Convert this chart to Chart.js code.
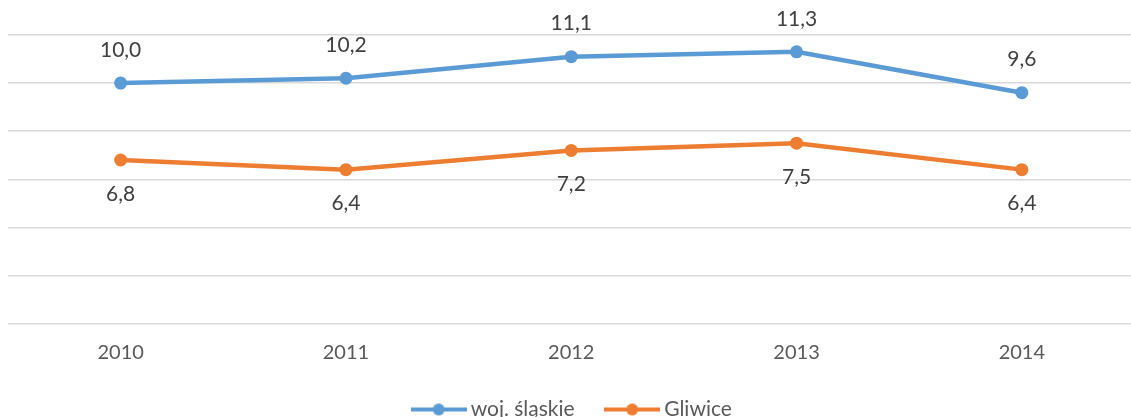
<!DOCTYPE html>
<html>
<head>
<meta charset="utf-8">
<script src="https://cdn.jsdelivr.net/npm/chart.js@4"></script>
<style>
html, body { margin: 0; padding: 0; background: #fff; overflow: hidden; }
#frame { width: 1131px; height: 417px; overflow: hidden; position: relative; }
#wrap { width: 1141px; height: 430px; position: absolute; left: 0; top: 0; }
</style>
</head>
<body>
<div id="frame"><div id="wrap"><canvas id="chart"></canvas></div></div>
<script>
const years = ['2010', '2011', '2012', '2013', '2014'];
const slaskie = [10.0, 10.2, 11.1, 11.3, 9.6];
const gliwice = [6.8, 6.4, 7.2, 7.5, 6.4];
const seriesNames = ['woj. śląskie', 'Gliwice'];
const colors = ['#5B9BD5', '#ED7D31'];

Chart.defaults.font.family = 'Lato';

// little line+dot picture for the legend
function legendMark(color){
    const c = document.createElement('canvas');
    c.width = 56; c.height = 14;
    const g = c.getContext('2d');
    g.strokeStyle = color;
    g.lineWidth = 4;
    g.beginPath(); g.moveTo(0, 7); g.lineTo(56, 7); g.stroke();
    g.fillStyle = color;
    g.beginPath(); g.arc(28, 7, 6, 0, Math.PI * 2); g.fill();
    return c;
}
const marks = colors.map(legendMark);

// values written above / below the points
const valueLabels = {
    id: 'valueLabels',
    afterDatasetsDraw(chart){
        const ctx = chart.ctx;
        ctx.save();
        ctx.font = '21px Lato';
        ctx.fillStyle = '#404040';
        ctx.textAlign = 'center';
        ctx.textBaseline = 'middle';
        chart.data.datasets.forEach((ds, i) => {
            const off = i === 0 ? -33 : 34;
            chart.getDatasetMeta(i).data.forEach((pt, j) => {
                ctx.fillText(ds.data[j].toFixed(1).replace('.', ','), pt.x, pt.y + off);
            });
        });
        ctx.restore();
    }
};

new Chart(document.getElementById('chart'), {
    type: 'line',
    data: {
        labels: years,
        datasets: [slaskie, gliwice].map((d, i) => ({
            label: seriesNames[i],
            data: d,
            borderColor: colors[i],
            backgroundColor: colors[i],
            borderWidth: 4.5,
            pointRadius: 6.5,
            pointBorderWidth: 0,
            pointBackgroundColor: colors[i],
            tension: 0,
            fill: false
        }))
    },
    options: {
        responsive: true,
        maintainAspectRatio: false,
        devicePixelRatio: 1,
        animation: false,
        layout: { padding: { left: 8, top: 35, right: 0, bottom: 0 } },
        scales: {
            x: {
                offset: true,
                grid: { display: false, drawTicks: false },
                border: { display: false },
                ticks: { color: '#595959', font: { size: 20 }, padding: 17 },
                afterFit: s => { s.height = 39.5; }
            },
            y: {
                min: 0,
                max: 12,
                ticks: { stepSize: 2, display: false },
                grid: { color: '#d9d9d9', lineWidth: 1.5, drawTicks: false },
                border: { display: false },
                afterFit: s => { s.width = 0; }
            }
        },
        plugins: {
            tooltip: { enabled: false },
            legend: {
                position: 'bottom',
                labels: {
                    color: '#595959',
                    font: { size: 21 },
                    usePointStyle: true,
                    pointStyleWidth: 43,
                    padding: 36,
                    generateLabels(chart){
                        const items = Chart.defaults.plugins.legend.labels.generateLabels(chart);
                        items.forEach((it, i) => { it.pointStyle = marks[i]; });
                        return items;
                    }
                }
            }
        }
    },
    plugins: [valueLabels]
});
</script>
</body>
</html>
